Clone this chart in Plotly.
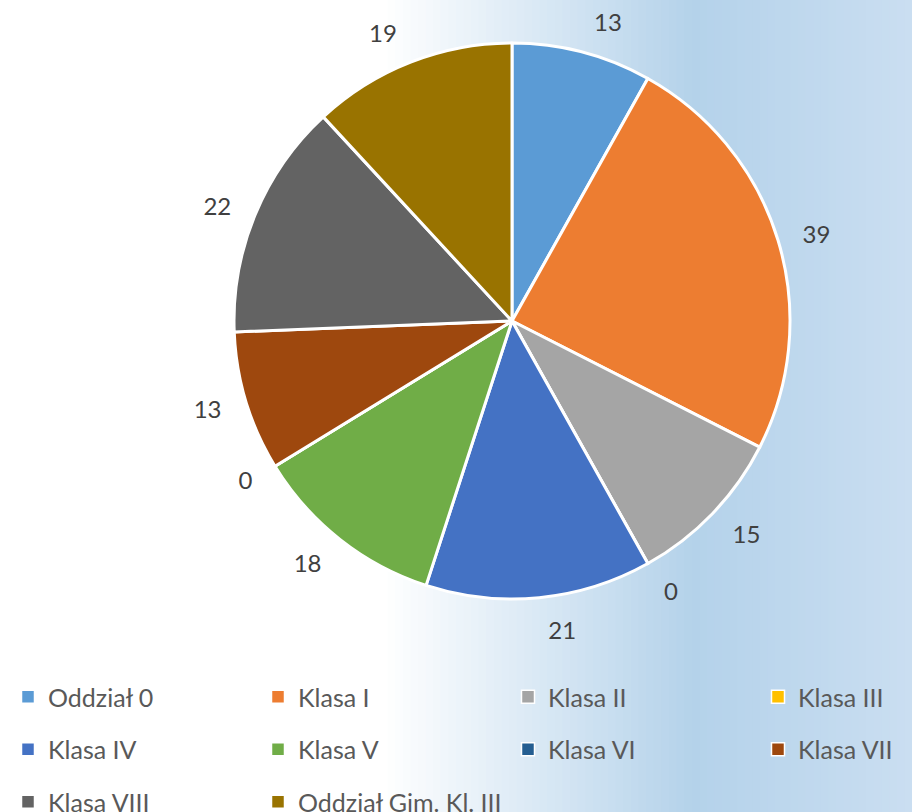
import plotly.graph_objects as go

categories = ["Oddział 0", "Klasa I", "Klasa II", "Klasa III", "Klasa IV",
              "Klasa V", "Klasa VI", "Klasa VII", "Klasa VIII", "Oddział Gim. Kl. III"]
values = [13, 39, 15, 0, 21, 18, 0, 13, 22, 19]
colors = ["#5B9BD5", "#ED7D31", "#A5A5A5", "#FFC000", "#4472C4",
          "#70AD47", "#255E91", "#9E480E", "#636363", "#997300"]

W, H = 912, 812
FONT = "Lato"
NCOL = 4
CX, CY, R = 512, 321, 278      # pie centre / radius in pixels
RL = 296                       # radius of the (invisible) label ring


def dom(r):
    return dict(x=[(CX - r) / W, (CX + r) / W], y=[1 - (CY + r) / H, 1 - (CY - r) / H])


fig = go.Figure()
# visible pie
fig.add_trace(go.Pie(
    labels=categories, values=values, sort=False, direction="clockwise", rotation=0,
    marker=dict(colors=colors, line=dict(color="white", width=3)),
    textinfo="none", domain=dom(R),
    hoverinfo="label+value", showlegend=False,
))
# invisible, slightly larger pie that carries the outside value labels
fig.add_trace(go.Pie(
    labels=categories, values=values, sort=False, direction="clockwise", rotation=0,
    marker=dict(colors=["rgba(0,0,0,0)"] * len(values), line=dict(width=0)),
    textinfo="value", textposition="outside",
    textfont=dict(family=FONT, size=24, color="#404040"),
    domain=dom(RL), hoverinfo="skip", showlegend=False,
))

# legend entries laid out in a 4-column grid (one legend per column)
legend_names = ["legend", "legend2", "legend3", "legend4"]
for i, (name, col) in enumerate(zip(categories, colors)):
    fig.add_trace(go.Scatter(
        x=[None], y=[None], mode="markers", name=name, legendgroup=name,
        marker=dict(symbol="square", size=13, color=col, line=dict(color="white", width=1.5)),
        legend=legend_names[i % NCOL], showlegend=True, hoverinfo="skip",
    ))

# background gradient (white -> light blue)
def lerp(c1, c2, t):
    return tuple(round(a + (b - a) * t) for a, b in zip(c1, c2))

stops = [(0.0, (255, 255, 255)), (0.42, (255, 255, 255)), (0.76, (180, 210, 234)), (1.0, (202, 222, 241))]
shapes = []
N = 120
for i in range(N):
    x0, x1 = i / N, (i + 1) / N
    xm = (x0 + x1) / 2
    for (s0, c0), (s1, c1) in zip(stops[:-1], stops[1:]):
        if s0 <= xm <= s1:
            c = lerp(c0, c1, (xm - s0) / (s1 - s0))
            break
    shapes.append(dict(type="rect", xref="paper", yref="paper", x0=x0, x1=x1 + 0.002, y0=0, y1=1,
                       fillcolor="rgb(%d,%d,%d)" % c, line=dict(width=0), layer="below"))

legend_style = dict(orientation="v", yanchor="top", xanchor="left", y=1 - 674 / H,
                    font=dict(family=FONT, size=25, color="#595959"),
                    bgcolor="rgba(0,0,0,0)", tracegroupgap=17, itemclick=False, itemdoubleclick=False)
col_x = [8, 258, 508, 758]
layout_legends = {}
for ln, cx in zip(legend_names, col_x):
    layout_legends[ln] = dict(legend_style, x=cx / W)

fig.update_layout(
    width=W, height=H,
    margin=dict(l=0, r=0, t=0, b=0, autoexpand=False),
    paper_bgcolor="white", plot_bgcolor="rgba(0,0,0,0)",
    shapes=shapes,
    showlegend=True,
    font=dict(family=FONT),
    xaxis=dict(visible=False), yaxis=dict(visible=False),
    **layout_legends,
)

fig.write_html("out.html", config={"displayModeBar": False},
               post_script="document.body.style.margin='0';")
